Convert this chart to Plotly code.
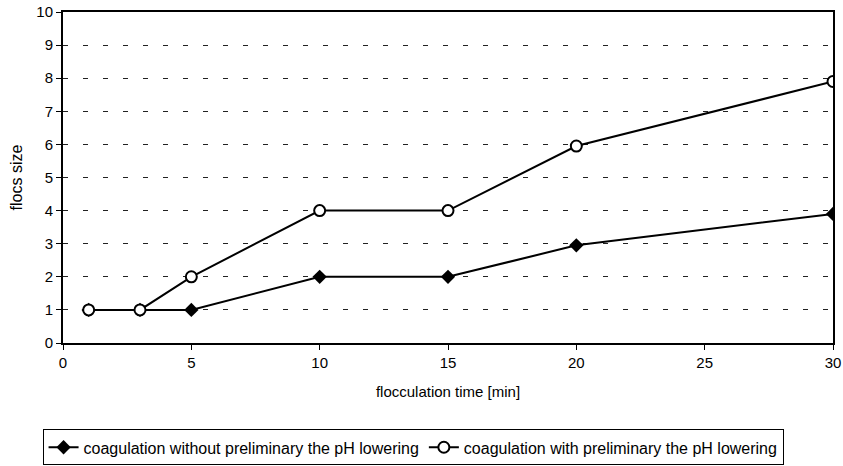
import plotly.graph_objects as go

time_min = [1, 3, 5, 10, 15, 20, 30]
without_ph = [1, 1, 1, 2, 2, 2.95, 3.9]
with_ph = [1, 1, 2, 4, 4, 5.95, 7.9]

name_without = "coagulation without preliminary the pH lowering"
name_with = "coagulation with preliminary the pH lowering"

fig = go.Figure()
fig.add_trace(go.Scatter(
    x=time_min, y=without_ph, name=name_without, mode="lines+markers",
    line=dict(color="black", width=2),
    marker=dict(symbol="diamond", size=11, color="black"),
))
fig.add_trace(go.Scatter(
    x=time_min, y=with_ph, name=name_with, mode="lines+markers",
    line=dict(color="black", width=2),
    marker=dict(symbol="circle", size=11, color="white", line=dict(color="black", width=2)),
))

font = "Liberation Sans, Arial, sans-serif"
fig.update_layout(
    width=843, height=466, autosize=False,
    margin=dict(l=63, r=10, t=12, b=123),
    paper_bgcolor="white", plot_bgcolor="white",
    font=dict(family=font, size=15, color="black"),
    showlegend=True,
    legend=dict(
        orientation="h", xref="container", yref="container",
        x=0.49, xanchor="center", y=0.04, yanchor="middle",
        bordercolor="black", borderwidth=1, font=dict(size=16), bgcolor="white",
        itemwidth=30, tracegroupgap=0,
    ),
)
fig.update_xaxes(
    range=[0, 30], tickvals=[0, 5, 10, 15, 20, 25, 30],
    showline=True, linecolor="black", linewidth=2, mirror=True,
    ticks="outside", ticklen=5, tickcolor="black",
    showgrid=False, zeroline=False, automargin=False,
    title=dict(text="flocculation time [min]", font=dict(size=15), standoff=16),
)
fig.update_yaxes(
    range=[0, 10], dtick=1,
    showline=True, linecolor="black", linewidth=2, mirror=True,
    ticks="outside", ticklen=5, tickcolor="black",
    showgrid=True, gridcolor="#222", gridwidth=1, griddash="5px,15px",
    zeroline=False, automargin=False,
    title=dict(text="flocs size", font=dict(size=16), standoff=10),
)

fig.write_html(
    "out.html",
    config={"displayModeBar": False, "responsive": False},
    post_script="document.body.style.margin='0';document.body.style.overflow='hidden';",
)
